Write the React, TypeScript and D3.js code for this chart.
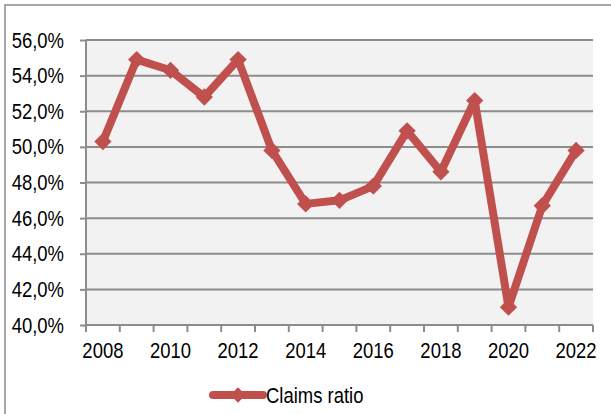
import React, { useRef, useEffect } from 'react';
import * as d3 from 'd3';

const years = ['2008', '2009', '2010', '2011', '2012', '2013', '2014', '2015', '2016', '2017', '2018', '2019', '2020', '2021', '2022'];
const claimsRatio = [50.3, 54.9, 54.3, 52.8, 54.9, 49.8, 46.8, 47.0, 47.8, 50.9, 48.6, 52.6, 41.0, 46.7, 49.8];
const yTicks = [40, 42, 44, 46, 48, 50, 52, 54, 56];
const xLabels = ['2008', '2010', '2012', '2014', '2016', '2018', '2020', '2022'];
const seriesName = 'Claims ratio';

const FONT = '"Liberation Sans", Arial, sans-serif';
const RED = '#C0504D';
// no narrow font installed, so squeeze Liberation Sans horizontally
const SQUEEZE = 0.84;

const App: React.FC = () => {
  const svgRef = useRef<SVGSVGElement | null>(null);

  useEffect(() => {
    if (!svgRef.current) return;
    const width = 611;
    const height = 414;
    const margin = { top: 40, right: 18, bottom: 89, left: 86 };
    const chartWidth = width - margin.left - margin.right;
    const chartHeight = height - margin.top - margin.bottom;

    const root = d3.select(svgRef.current);
    root.selectAll('*').remove();

    // outer chart border (clipped at right/bottom)
    root.append('rect')
      .attr('x', 5).attr('y', 5)
      .attr('width', width).attr('height', height)
      .attr('fill', '#ffffff')
      .attr('stroke', '#8c8c8c')
      .attr('stroke-width', 1.5);

    const svg = root.append('g')
      .attr('transform', `translate(${margin.left},${margin.top})`);

    const x = d3.scaleBand().domain(years).range([0, chartWidth]).padding(0);
    const y = d3.scaleLinear().domain([40, 56]).range([chartHeight, 0]);

    // plot background
    svg.append('rect')
      .attr('width', chartWidth)
      .attr('height', chartHeight)
      .attr('fill', '#f2f2f2');

    // y axis ticks + labels
    const yAxis = svg.append('g')
      .call(d3.axisLeft(y).tickValues(yTicks).tickSize(6)
        .tickFormat(d => `${(d as number).toFixed(1).replace('.', ',')}%`));
    yAxis.select('.domain').remove();
    yAxis.selectAll('line').attr('stroke', '#8c8c8c').attr('stroke-width', 2);
    yAxis.selectAll('text')
      .attr('x', -22 / SQUEEZE)
      .attr('transform', `scale(${SQUEEZE},1)`)
      .attr('font-family', FONT).attr('font-size', 22).attr('fill', '#000');

    // gridlines
    svg.append('g')
      .selectAll('line')
      .data(yTicks)
      .join('line')
      .attr('x1', 0).attr('x2', chartWidth)
      .attr('y1', d => y(d)).attr('y2', d => y(d))
      .attr('stroke', '#8c8c8c').attr('stroke-width', 2);

    // left axis line
    svg.append('line')
      .attr('x1', 0).attr('x2', 0).attr('y1', 0).attr('y2', chartHeight)
      .attr('stroke', '#8c8c8c').attr('stroke-width', 2);

    // x axis ticks between categories
    const boundaries = years.map(yr => x(yr)!).concat([chartWidth]);
    svg.append('g')
      .selectAll('line')
      .data(boundaries)
      .join('line')
      .attr('x1', d => d).attr('x2', d => d)
      .attr('y1', chartHeight).attr('y2', chartHeight + 7)
      .attr('stroke', '#8c8c8c').attr('stroke-width', 2);

    const xAxis = svg.append('g')
      .attr('transform', `translate(0,${chartHeight})`)
      .call(d3.axisBottom(x).tickValues(xLabels).tickSize(0).tickPadding(17));
    xAxis.select('.domain').remove();
    xAxis.selectAll('text')
      .attr('transform', `scale(${SQUEEZE},1)`)
      .attr('font-family', FONT).attr('font-size', 22).attr('fill', '#000');

    // series line
    const line = d3.line<number>()
      .x((_, i) => x(years[i])! + x.bandwidth() / 2)
      .y(d => y(d));

    svg.append('path')
      .datum(claimsRatio)
      .attr('d', line)
      .attr('fill', 'none')
      .attr('stroke', RED)
      .attr('stroke-width', 8)
      .attr('stroke-linejoin', 'round');

    const diamond = d3.symbol().type(d3.symbolDiamond2).size(190);
    svg.append('g')
      .selectAll('path')
      .data(claimsRatio)
      .join('path')
      .attr('d', diamond)
      .attr('transform', (d, i) => `translate(${x(years[i])! + x.bandwidth() / 2},${y(d)})`)
      .attr('fill', RED);

    // legend
    const legend = root.append('g').attr('transform', 'translate(213,395)');
    legend.append('line')
      .attr('x1', 0).attr('x2', 50).attr('y1', 0).attr('y2', 0)
      .attr('stroke', RED).attr('stroke-width', 8).attr('stroke-linecap', 'round');
    legend.append('path')
      .attr('d', d3.symbol().type(d3.symbolDiamond2).size(150)())
      .attr('transform', 'translate(25,0)')
      .attr('fill', RED);
    legend.append('text')
      .attr('x', 53 / SQUEEZE).attr('y', 0).attr('dy', '0.35em')
      .attr('transform', `scale(${SQUEEZE},1)`)
      .attr('font-family', FONT).attr('font-size', 22).attr('fill', '#000')
      .text(seriesName);
  }, []);

  return (
    <svg ref={svgRef} width={611} height={414}
      style={{ position: 'absolute', left: 0, top: 0 }} />
  );
};

export default App;
